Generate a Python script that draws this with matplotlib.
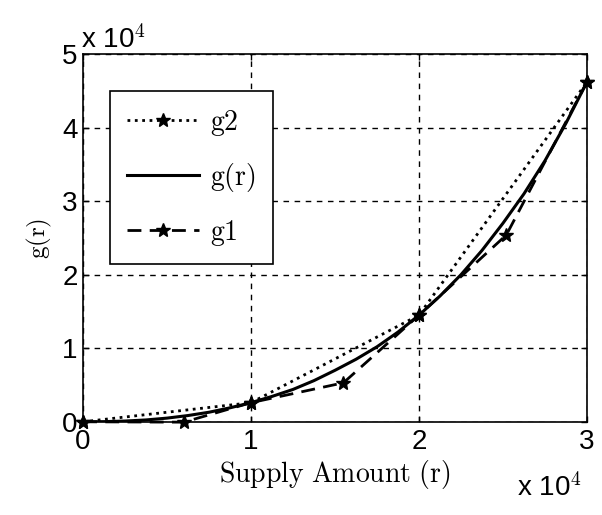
import numpy as np
import matplotlib
matplotlib.use("Agg")
import matplotlib.pyplot as plt

# values
r_true = [0, 1250, 2500, 3750, 5000, 6250, 7500, 8750, 10000, 11250, 12500, 13750, 15000,
          16250, 17500, 18750, 20000, 21250, 22500, 23750, 25000, 26250, 27500, 28750, 30000]
g_true = [0, 20, 100, 250, 500, 850, 1300, 1900, 2600, 3450, 4400, 5600, 7000,
          8500, 10200, 12200, 14500, 17100, 20000, 23300, 27000, 31000, 35500, 40600, 46200]

r_g1 = [0, 6000, 10000, 15500, 20000, 25200, 30000]
g_g1 = [0, -50, 2600, 5300, 14500, 25400, 46200]

r_g2 = [0, 10000, 20000, 30000]
g2_vals = [0, 2600, 14500, 46200]

xticks = [0, 10000, 20000, 30000]
yticks = [0, 10000, 20000, 30000, 40000, 50000]

plt.rcParams['mathtext.fontset'] = 'cm'
fig = plt.figure(figsize=(6.02, 5.15), dpi=100)
ax = fig.add_axes([0.138, 0.181, 0.837, 0.714])

ax.plot(r_g2, g2_vals, color='black', linestyle=':', linewidth=2, marker='*', markersize=10,
        clip_on=False, label='$\\mathrm{g2}$')
ax.plot(r_true, g_true, color='black', linestyle='-', linewidth=2.2, label='$\\mathrm{g(r)}$')
ax.plot(r_g1, g_g1, color='black', linestyle=(0, (5, 3)), linewidth=2, marker='*', markersize=10,
        clip_on=False, label='$\\mathrm{g1}$')

ax.set_xlim(0, 30000)
ax.set_ylim(0, 50000)
ax.set_xticks(xticks)
ax.set_yticks(yticks)
ax.set_xticklabels([str(int(t / 10000)) for t in xticks], fontfamily='Liberation Sans', fontsize=20)
ax.set_yticklabels([str(int(t / 10000)) for t in yticks], fontfamily='Liberation Sans', fontsize=20)
ax.tick_params(direction='in', top=True, right=True, length=4, width=1)
ax.tick_params(axis='x', pad=5)
ax.tick_params(axis='y', pad=4)
ax.grid(True, color='black', linestyle=(0, (4, 4)), linewidth=1)
for s in ax.spines.values():
    s.set_linewidth(1.2)

ax.set_xlabel('$\\mathrm{Supply\\ Amount\\ (r)}$', fontsize=20, labelpad=2)
ax.set_ylabel('$\\mathrm{g(r)}$', fontsize=18, labelpad=6)

ax.text(-0.005, 1.0, 'x 10$^4$', transform=ax.transAxes, fontfamily='Liberation Sans', fontsize=20, ha='left', va='bottom')
ax.text(0.99, -0.14, 'x 10$^4$', transform=ax.transAxes, fontfamily='Liberation Sans', fontsize=20, ha='right', va='top')

leg = ax.legend(loc='upper left', bbox_to_anchor=(0.054, 0.90), borderaxespad=0, fontsize=20, frameon=True,
                fancybox=False, edgecolor='black', handlelength=2.6, handletextpad=0.4, labelspacing=0.85,
                borderpad=0.6, framealpha=1)
leg.get_frame().set_linewidth(1.2)

fig.savefig('out.png', dpi=100)
